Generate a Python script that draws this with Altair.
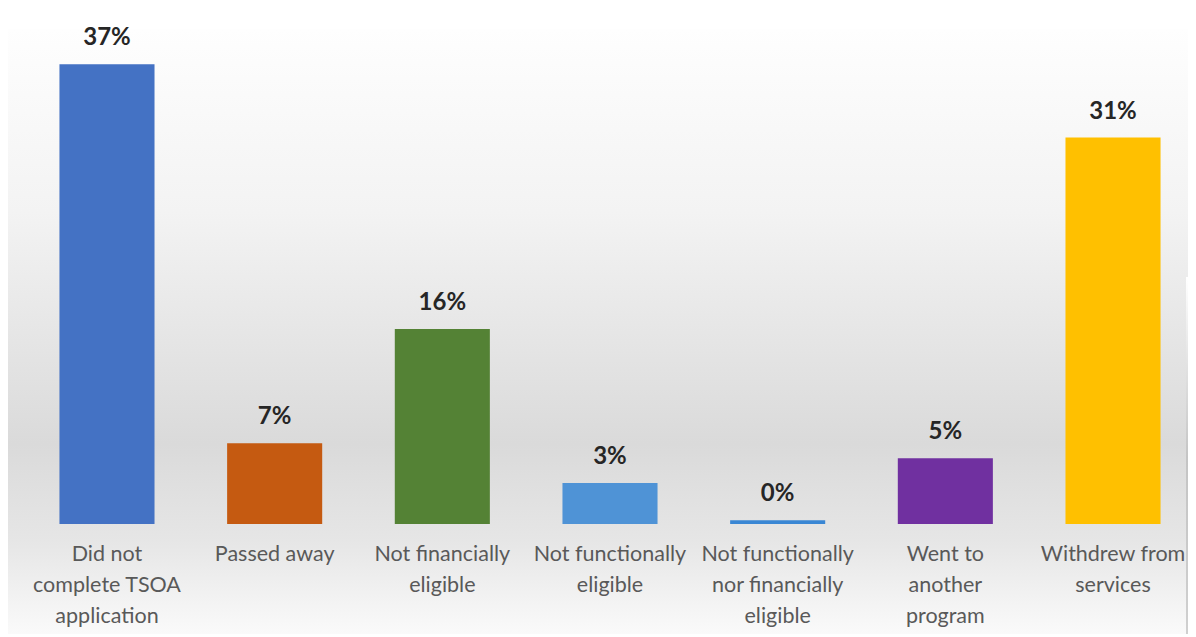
import altair as alt
import pandas as pd

categories = [
    "Did not\ncomplete TSOA\napplication",
    "Passed away",
    "Not financially\neligible",
    "Not functionally\neligible",
    "Not functionally\nnor financially\neligible",
    "Went to\nanother\nprogram",
    "Withdrew from\nservices",
]
values = [37.0, 6.5, 15.7, 3.3, 0.3, 5.3, 31.1]
labels = ["37%", "7%", "16%", "3%", "0%", "5%", "31%"]
colors = ["#4472C4", "#C55A11", "#548235", "#4F93D6", "#3A87D4", "#7030A0", "#FFC000"]

df = pd.DataFrame({"category": categories, "value": values, "label": labels})
one = pd.DataFrame({"k": [0]})

W, H = 1140, 497
FONT = "Lato"

x_enc = alt.X(
    "category:N",
    sort=categories,
    title=None,
    scale=alt.Scale(paddingInner=0.433, paddingOuter=0.116),
    axis=alt.Axis(
        labelAngle=0,
        labelExpr="split(datum.label, '\\n')",
        labelFont=FONT,
        labelFontSize=21.5,
        labelColor="#595959",
        labelLineHeight=31,
        labelPadding=19,
        ticks=False,
        domain=False,
        grid=False,
        labelLimit=0,
        zindex=2,
    ),
)
y_enc = alt.Y("value:Q", scale=alt.Scale(domain=[0, 40]), axis=None)

bg = alt.Chart(one).mark_rect(
    fill=alt.Gradient(
        gradient="linear",
        x1=0, y1=0, x2=0, y2=1,
        stops=[
            alt.GradientStop(color="#fefefe", offset=0),
            alt.GradientStop(color="#f3f3f3", offset=0.3),
            alt.GradientStop(color="#dadada", offset=0.68),
            alt.GradientStop(color="#e6e6e6", offset=0.84),
            alt.GradientStop(color="#fbfbfb", offset=1),
        ],
    )
).encode(x=alt.value(-35), x2=alt.value(1148), y=alt.value(2), y2=alt.value(612))

edge = alt.Chart(one).mark_rect(
    fill=alt.Gradient(
        gradient="linear",
        x1=0, y1=0, x2=0, y2=1,
        stops=[
            alt.GradientStop(color="#ffffff", offset=0),
            alt.GradientStop(color="#c4c4c4", offset=0.5),
            alt.GradientStop(color="#d0d0d0", offset=1),
        ],
    )
).encode(x=alt.value(1146), x2=alt.value(1148), y=alt.value(250), y2=alt.value(612))

bars = alt.Chart(df).mark_bar().encode(
    x=x_enc,
    y=y_enc,
    color=alt.Color("category:N", scale=alt.Scale(domain=categories, range=colors), legend=None),
)

text = alt.Chart(df).mark_text(
    baseline="bottom", dy=-14, fontWeight="bold", fontSize=24, font=FONT, color="#262626"
).encode(x=alt.X("category:N", sort=categories), y=y_enc, text="label:N")

chart = alt.layer(bg, edge, bars, text).properties(
    width=W,
    height=H,
    padding={"left": 32, "top": 19, "right": 8, "bottom": 110},
    autosize=alt.AutoSizeParams(type="none"),
    background="white",
).configure_view(stroke=None)

chart.save("out.html", embed_options={"renderer": "svg", "actions": False})
